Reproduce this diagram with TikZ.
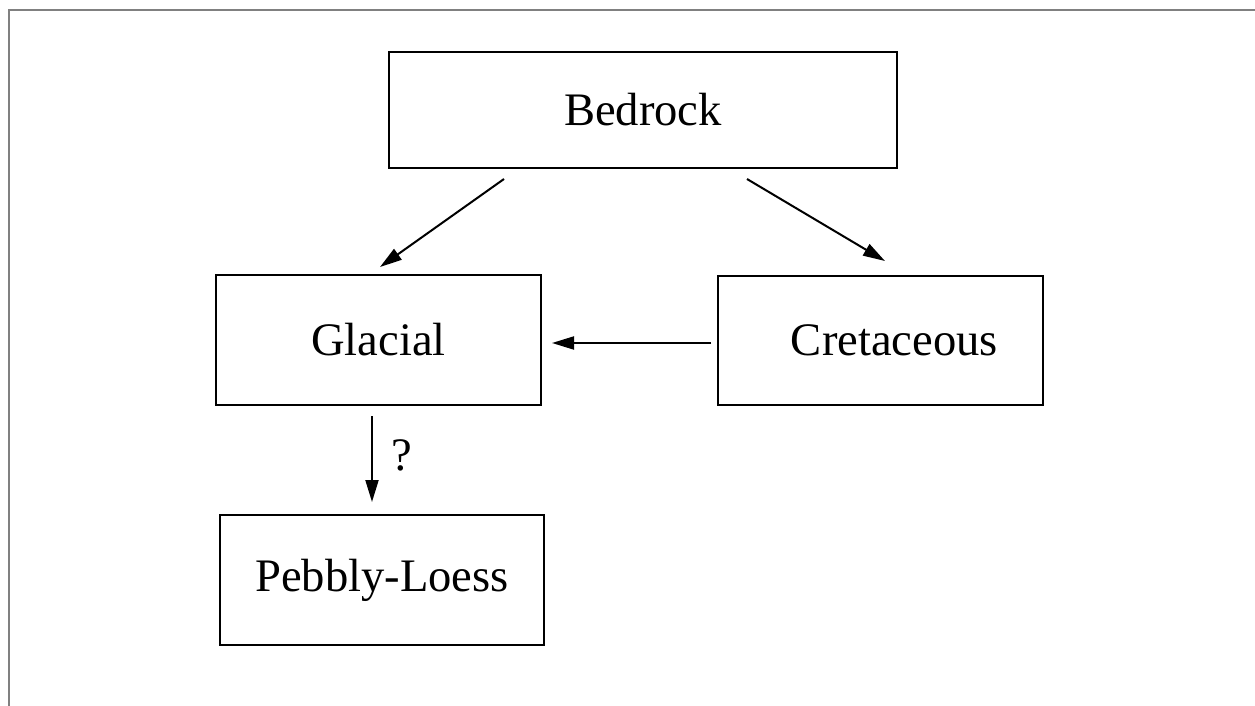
\documentclass[tikz,border=0pt]{standalone}
\usepackage{fontspec}
\setmainfont{Liberation Serif}
\usetikzlibrary{arrows.meta,calc}
\begin{document}
\begin{tikzpicture}[x=0.5pt,y=-0.5pt,
  box/.style={draw, line width=1pt, rectangle, inner sep=0pt, font=\fontsize{23.3pt}{28pt}\selectfont},
  arr/.style={line width=1pt, -{Triangle[length=11pt,width=6.5pt]}},
  frameline/.style={draw=black!50, line width=1pt},
  lbl/.style={font=\fontsize{23.3pt}{28pt}\selectfont, inner sep=0pt}]
\useasboundingbox (0,0) rectangle (1255,706);
\draw[frameline] (9,706) -- (9,10) -- (1255,10);
\node[box, minimum width=254pt, minimum height=58pt] (bed) at (643,110) {Bedrock};
\node[box, minimum width=162.5pt, minimum height=65pt] (gla) at (378.5,340) {Glacial};
\node[box, minimum width=162.5pt, minimum height=64.5pt, text width=117.5pt, align=right, inner xsep=22.5pt] (cre) at (880.5,340.5) {Cretaceous};
\node[box, minimum width=162pt, minimum height=65pt] (peb) at (382,580) {Pebbly-Loess};
\draw[arr] ($(bed.south)+(-139,10)$) -- ($(gla.north)+(1.5,-7)$);
\draw[arr] ($(bed.south)+(104,10)$) -- ($(cre.north)+(4.5,-14)$);
\draw[arr] ($(cre.west)+(-6,2.5)$) -- ($(gla.east)+(10,3)$);
\draw[arr] ($(gla.south)+(-6.5,10)$) -- ($(peb.north)+(-10,-12)$);
\node[lbl] (q) at (402,455) {?};
\end{tikzpicture}
\end{document}
